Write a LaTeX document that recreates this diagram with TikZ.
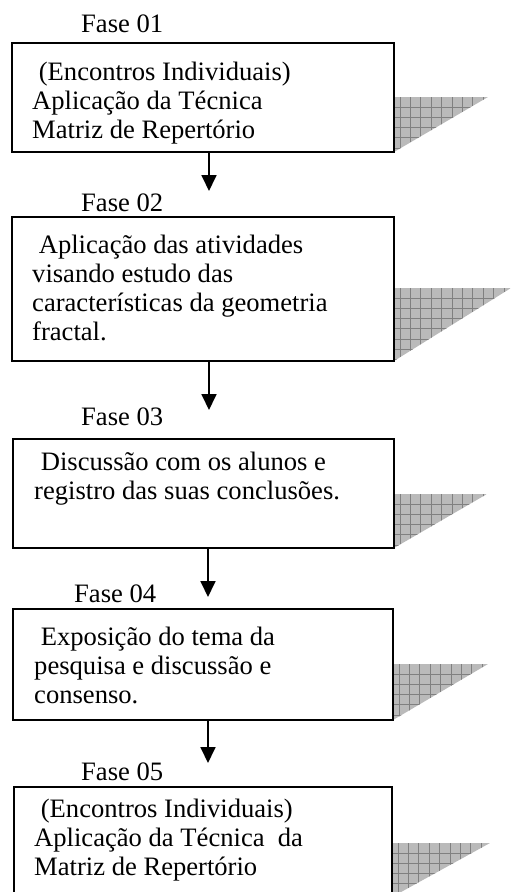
\documentclass[tikz,border=0pt]{standalone}
\usepackage{fontspec}
\setmainfont{Liberation Serif}
\usetikzlibrary{arrows.meta}
\definecolor{shfill}{RGB}{186,186,186}
\definecolor{shgrid}{RGB}{128,128,128}
\newcommand\tlines[1]{\vtop{\lineskiplimit=-50pt #1}}
\newcommand\shadetri[4]{%
  \begin{scope}
    \clip (#1,#2) -- (#3,#2) -- (#1,#4) -- cycle;
    \fill[shfill] (#1,#2) rectangle (#3,#4);
    \foreach \k in {0,...,12} \draw[shgrid, line width=0.8pt] ({#1+6+10.4*\k},{#2-2}) -- ({#1+6+10.4*\k},{#4+2});
    \foreach \k in {1,...,8} \draw[shgrid, line width=0.8pt] ({#1-2},{#2+10.2*\k}) -- ({#3+2},{#2+10.2*\k});
  \end{scope}}
\tikzset{
  box/.style={draw, line width=1.6pt, rectangle, inner sep=0pt, outer sep=0pt, anchor=north west},
  txt/.style={anchor=base west, inner sep=0pt, font=\fontsize{26.6}{29}\selectfont},
  arr/.style={-{Triangle[length=16pt,width=15pt]}, line width=1.8pt}
}
\begin{document}
\begin{tikzpicture}[x=1pt, y=-1pt]
\path[use as bounding box, clip] (0,0) rectangle (511,892);

% shadows
\shadetri{394}{97}{488}{152}
\shadetri{394}{288}{511}{361}
\shadetri{394}{494}{487}{548}
\shadetri{393}{664}{488}{720}
\shadetri{392}{843}{490}{897}

% boxes
\node[box, minimum width=382pt, minimum height=109pt] (b1) at (12,43) {};
\node[box, minimum width=382pt, minimum height=144pt] (b2) at (12,217) {};
\node[box, minimum width=381pt, minimum height=109pt] (b3) at (13,439) {};
\node[box, minimum width=380pt, minimum height=111pt] (b4) at (13,609) {};
\node[box, minimum width=378pt, minimum height=110pt] (b5) at (14,787) {};

% phase labels
\node[txt] (f1) at (81,32) {Fase 01};
\node[txt] (f2) at (81,211) {Fase 02};
\node[txt] (f3) at (81,425) {Fase 03};
\node[txt] (f4) at (74,602) {Fase 04};
\node[txt] (f5) at (81,780) {Fase 05};

% box texts
\node[txt] (t1) at (32,80) {\tlines{\hbox{\ (Encontros Individuais)}\hbox{Aplicação da Técnica}\hbox{Matriz de Repertório}}};
\node[txt] (t2) at (32,253) {\tlines{\hbox{\ Aplicação das atividades}\hbox{visando estudo das}\hbox{características da geometria}\hbox{fractal.}}};
\node[txt] (t3) at (34,470) {\tlines{\hbox{\ Discussão com os alunos e}\hbox{registro das suas conclusões.}}};
\node[txt] (t4) at (34,645) {\tlines{\hbox{\ Exposição do tema da}\hbox{pesquisa e discussão e}\hbox{consenso.}}};
\node[txt] (t5) at (34,817) {\tlines{\hbox{\ (Encontros Individuais)}\hbox{Aplicação da Técnica\ \ da}\hbox{Matriz de Repertório}}};

% arrows
\coordinate (e1) at (209,191);
\coordinate (e2) at (209,410);
\coordinate (e3) at (208,597);
\coordinate (e4) at (208,763);
\draw[arr] (b1.south -| e1) -- (e1);
\draw[arr] (b2.south -| e2) -- (e2);
\draw[arr] (b3.south -| e3) -- (e3);
\draw[arr] (b4.south -| e4) -- (e4);
\end{tikzpicture}
\end{document}
